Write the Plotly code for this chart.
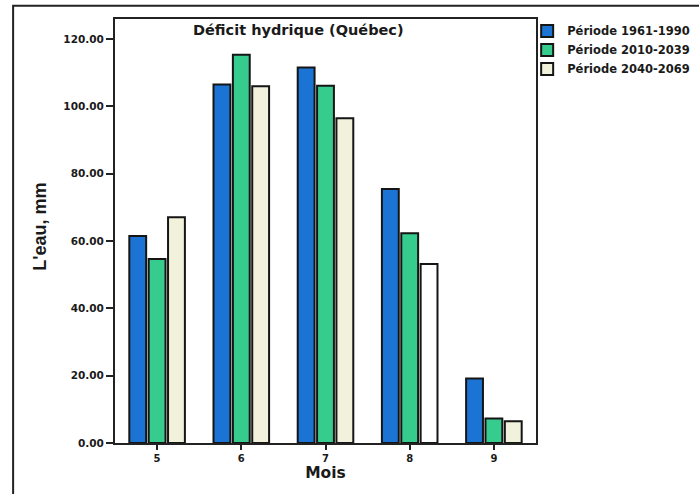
import plotly.graph_objects as go

# Monthly water deficit (mm) for three climate periods
mois = [5, 6, 7, 8, 9]
periode_1961_1990 = [61.5, 106.5, 111.6, 75.5, 19.2]
periode_2010_2039 = [54.7, 115.4, 106.2, 62.3, 7.3]
periode_2040_2069 = [67.1, 106.0, 96.5, 53.2, 6.5]
noms = ["Période 1961-1990", "Période 2010-2039", "Période 2040-2069"]
y_ticks = [0, 20, 40, 60, 80, 100, 120]

BOLD = dict(family="DejaVu Sans, Verdana, sans-serif", color="#1a1a1a", weight="bold")
NARROW = dict(family="Liberation Sans, Arial, sans-serif", color="#1a1a1a", weight="bold")
LINE = dict(color="#151515", width=2)

fig = go.Figure()
fig.add_trace(go.Bar(x=mois, y=periode_1961_1990, name=noms[0],
                     marker=dict(color="#1b74d4", line=LINE)))
fig.add_trace(go.Bar(x=mois, y=periode_2010_2039, name=noms[1],
                     marker=dict(color="#36cc8e", line=LINE)))
# the August bar of the last period is drawn unfilled
fill_3 = ["#f1f1dc", "#f1f1dc", "#f1f1dc", "#ffffff", "#f1f1dc"]
fig.add_trace(go.Bar(x=mois, y=periode_2040_2069, name=noms[2],
                     marker=dict(color=fill_3, line=LINE)))

fig.update_layout(
    width=699, height=494,
    margin=dict(l=115, r=163, t=19, b=51, autoexpand=False),
    paper_bgcolor="white", plot_bgcolor="white",
    barmode="group", bargap=0.31, bargroupgap=0.13,
    showlegend=True,
    legend=dict(x=0.979, xanchor="left", y=1.006, yanchor="top",
                font=dict(size=11.5, **BOLD), bgcolor="rgba(0,0,0,0)",
                tracegroupgap=0, itemwidth=30),
    xaxis=dict(range=[4.5, 9.5], tickvals=mois, ticktext=[str(m) for m in mois],
               ticks="outside", ticklen=5, tickwidth=2, tickcolor="#222",
               showline=True, linecolor="#222", linewidth=2, mirror=True,
               showgrid=False, zeroline=False,
               tickfont=dict(size=10, **BOLD),
               title=dict(text="Mois", font=dict(size=15.5, **BOLD), standoff=4)),
    yaxis=dict(range=[0, 126], tickvals=y_ticks, tickformat=".2f",
               ticks="outside", ticklen=7, tickwidth=1.5, tickcolor="#222",
               showline=True, linecolor="#222", linewidth=2, mirror=True,
               showgrid=False, zeroline=False,
               tickfont=dict(size=10.5, **BOLD)),
    annotations=[
        dict(text="Déficit hydrique (Québec)", xref="paper", yref="paper",
             x=0.435, y=0.998, xanchor="center", yanchor="top",
             showarrow=False, font=dict(size=14.5, **BOLD)),
        dict(text="L'eau, mm", xref="paper", yref="paper", textangle=-90,
             x=-0.178, y=0.51, xanchor="center", yanchor="middle",
             showarrow=False, font=dict(size=18, **NARROW)),
    ],
    shapes=[dict(type="rect", xref="paper", yref="paper",
                 x0=-0.242, x1=1.45, y0=-0.2, y1=1.031,
                 line=dict(color="#222", width=2), fillcolor="rgba(0,0,0,0)",
                 layer="below")],
)

fig.write_html("out.html")
